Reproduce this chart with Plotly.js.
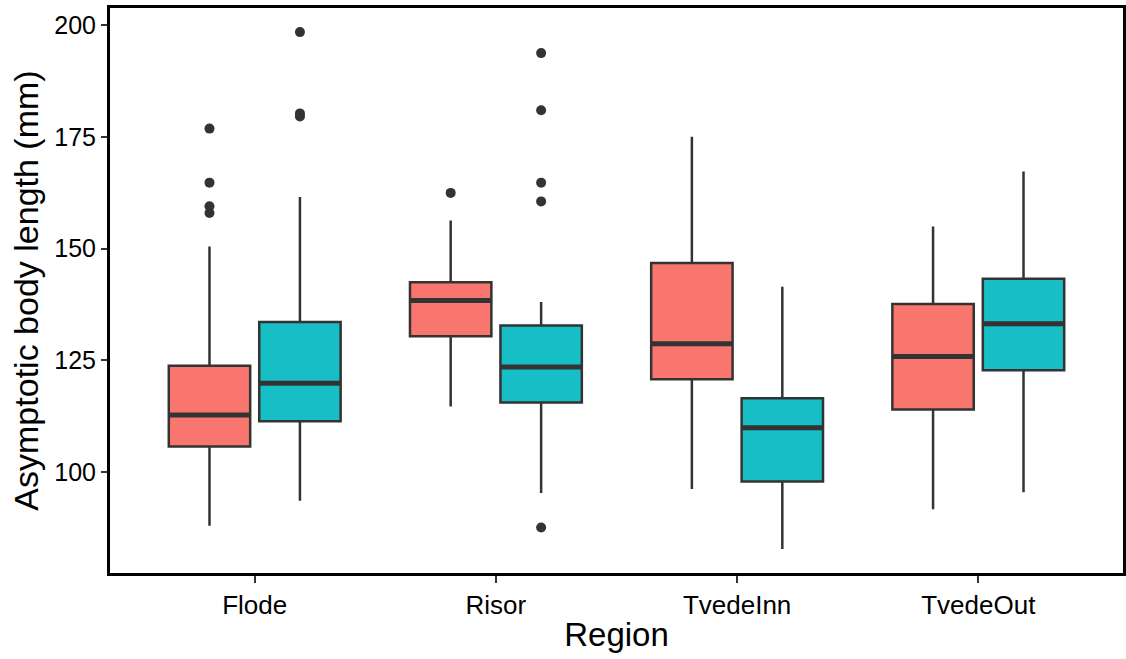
<!DOCTYPE html>
<html>
<head>
<meta charset="utf-8">
<script src="https://cdn.plot.ly/plotly-3.0.1.min.js"></script>
<style>html,body{margin:0;padding:0;background:#fff;}#chart{width:1126px;height:659px;}</style>
</head>
<body>
<div id="chart"></div>
<script>
// ---- data ----
const regions = ['Flode', 'Risor', 'TvedeInn', 'TvedeOut'];

const redQ1  = [105.7, 130.4, 120.8, 114.0];
const redMed = [112.8, 138.4, 128.7, 125.9];
const redQ3  = [123.8, 142.5, 146.8, 137.6];
const redLo  = [88.0, 114.7, 96.2, 91.7];
const redHi  = [150.5, 156.3, 175.1, 155.0];
const redOutRegion = ['Flode', 'Flode', 'Flode', 'Flode', 'Risor'];
const redOutVal    = [176.9, 164.8, 159.5, 158.0, 162.5];

const tealQ1  = [111.4, 115.6, 97.9, 122.8];
const tealMed = [119.9, 123.5, 109.9, 133.2];
const tealQ3  = [133.6, 132.8, 116.5, 143.3];
const tealLo  = [93.6, 95.3, 82.8, 95.5];
const tealHi  = [161.6, 138.1, 141.5, 167.3];
const tealOutRegion = ['Flode', 'Flode', 'Flode', 'Risor', 'Risor', 'Risor', 'Risor', 'Risor'];
const tealOutVal    = [198.5, 180.3, 179.6, 193.8, 181.0, 164.8, 160.6, 87.6];

const yTicks = [100, 125, 150, 175, 200];

// ---- styling / layout helpers ----
const RED = '#F8766D', TEAL = '#17BEC5', LINE = '#333333';
const OFFSET = 0.1875, BOXW = 0.3375;
const FONT = 'Liberation Sans, Arial, sans-serif';

function idx(r) { return regions.indexOf(r); }

function group(q1, med, q3, lo, hi, outR, outV, color, off) {
  const xs = regions.map((r, i) => i + off);
  const traces = [];
  traces.push({
    type: 'box', x: xs, q1: q1, median: med, q3: q3,
    lowerfence: lo, upperfence: hi,
    width: BOXW, whiskerwidth: 0, boxpoints: false,
    fillcolor: color, line: {color: LINE, width: 2.5},
    showlegend: false, hoverinfo: 'y'
  });
  // thicker median bars
  const mx = [], my = [];
  med.forEach((m, i) => {
    mx.push(xs[i] - BOXW / 2, xs[i] + BOXW / 2, null);
    my.push(m, m, null);
  });
  traces.push({
    type: 'scatter', mode: 'lines', x: mx, y: my,
    line: {color: LINE, width: 5}, showlegend: false, hoverinfo: 'skip'
  });
  traces.push({
    type: 'scatter', mode: 'markers',
    x: outR.map(r => idx(r) + off), y: outV,
    marker: {color: LINE, size: 10}, showlegend: false
  });
  return traces;
}

const data = [].concat(
  group(redQ1, redMed, redQ3, redLo, redHi, redOutRegion, redOutVal, RED, -OFFSET),
  group(tealQ1, tealMed, tealQ3, tealLo, tealHi, tealOutRegion, tealOutVal, TEAL, OFFSET)
);

const layout = {
  width: 1126, height: 659,
  margin: {l: 110, r: 3, t: 8, b: 86},
  paper_bgcolor: '#ffffff', plot_bgcolor: '#ffffff',
  font: {family: FONT, color: '#000000'},
  showlegend: false,
  xaxis: {
    range: [-0.6, 3.6],
    tickvals: regions.map((r, i) => i), ticktext: regions,
    showgrid: false, zeroline: false,
    showline: true, linecolor: '#000000', linewidth: 3, mirror: true,
    ticks: 'outside', ticklen: 7, tickwidth: 2, tickcolor: LINE,
    tickfont: {size: 26, family: FONT, color: '#000000'},
    title: {text: 'Region', font: {size: 33, family: FONT, color: '#000000'}, standoff: 4},
    automargin: false
  },
  yaxis: {
    range: [77.4, 203.9],
    tickvals: yTicks,
    showgrid: false, zeroline: false,
    showline: true, linecolor: '#000000', linewidth: 3, mirror: true,
    ticks: 'outside', ticklen: 6, tickwidth: 2, tickcolor: LINE,
    tickfont: {size: 25, family: FONT, color: '#000000'},
    title: {text: 'Asymptotic body length (mm)', font: {size: 34, family: FONT, color: '#000000'}, standoff: 6},
    automargin: false
  }
};

Plotly.newPlot('chart', data, layout, {displayModeBar: false, staticPlot: true});
</script>
</body>
</html>
